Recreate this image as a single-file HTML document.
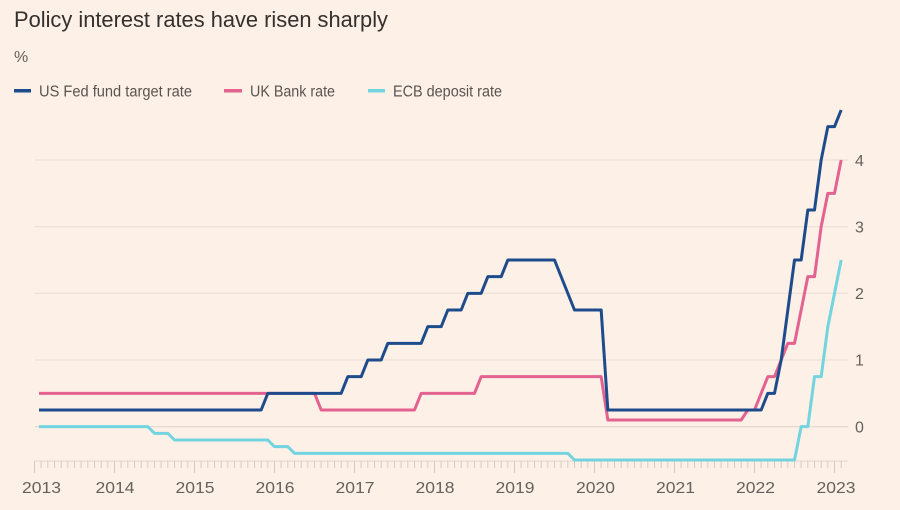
<!DOCTYPE html>
<html>
<head>
<meta charset="utf-8">
<style>
  html,body{margin:0;padding:0;background:#fdf0e7;}
  svg{display:block;}
  text{font-family:"Liberation Sans",Arial,sans-serif;}
</style>
</head>
<body>
<svg width="900" height="510" viewBox="0 0 900 510" xmlns="http://www.w3.org/2000/svg">
  <rect x="0" y="0" width="900" height="510" fill="#fdf0e7"/>

  <!-- Title -->
  <text x="14" y="27" font-size="22" fill="#33302e" textLength="374" lengthAdjust="spacingAndGlyphs">Policy interest rates have risen sharply</text>
  <text x="14" y="62" font-size="16" fill="#66605c">%</text>

  <!-- Legend -->
  <line x1="14" y1="90.7" x2="31" y2="90.7" stroke="#1e4b8b" stroke-width="3.5"/>
  <text x="39" y="96.5" font-size="15.5" fill="#5a5450" textLength="153" lengthAdjust="spacingAndGlyphs">US Fed fund target rate</text>
  <line x1="224" y1="90.7" x2="242" y2="90.7" stroke="#e4628f" stroke-width="3.5"/>
  <text x="250" y="96.5" font-size="15.5" fill="#5a5450" textLength="85" lengthAdjust="spacingAndGlyphs">UK Bank rate</text>
  <line x1="368" y1="90.7" x2="385" y2="90.7" stroke="#72d4df" stroke-width="3.5"/>
  <text x="393" y="96.5" font-size="15.5" fill="#5a5450" textLength="109" lengthAdjust="spacingAndGlyphs">ECB deposit rate</text>

  <!-- Gridlines -->
  <g stroke="#e9ddd3" stroke-width="1">
    <line x1="35" y1="160" x2="848" y2="160"/>
    <line x1="35" y1="226.7" x2="848" y2="226.7"/>
    <line x1="35" y1="293.3" x2="848" y2="293.3"/>
    <line x1="35" y1="360" x2="848" y2="360"/>
  </g>
  <line x1="35" y1="426.7" x2="848" y2="426.7" stroke="#ddd2c9" stroke-width="1"/>

  <!-- Y labels -->
  <g font-size="16" fill="#66605c">
    <text x="855" y="166">4</text>
    <text x="855" y="232.5">3</text>
    <text x="855" y="299">2</text>
    <text x="855" y="365.5">1</text>
    <text x="855" y="432.5">0</text>
  </g>

  <!-- X axis baseline and ticks -->
  <line x1="34" y1="461" x2="848" y2="461" stroke="#e3d7cd" stroke-width="1"/>
  <g id="ticks" stroke="#d6cbc2" stroke-width="1">
    <path d="M34.5 461V473M41.17 461V468M47.83 461V468M54.5 461V468M61.17 461V468M67.83 461V468M74.5 461V468M81.17 461V468M87.83 461V468M94.5 461V468M101.17 461V468M107.83 461V468
M114.5 461V473M121.17 461V468M127.83 461V468M134.5 461V468M141.17 461V468M147.83 461V468M154.5 461V468M161.17 461V468M167.83 461V468M174.5 461V468M181.17 461V468M187.83 461V468
M194.5 461V473M201.17 461V468M207.83 461V468M214.5 461V468M221.17 461V468M227.83 461V468M234.5 461V468M241.17 461V468M247.83 461V468M254.5 461V468M261.17 461V468M267.83 461V468
M274.5 461V473M281.17 461V468M287.83 461V468M294.5 461V468M301.17 461V468M307.83 461V468M314.5 461V468M321.17 461V468M327.83 461V468M334.5 461V468M341.17 461V468M347.83 461V468
M354.5 461V473M361.17 461V468M367.83 461V468M374.5 461V468M381.17 461V468M387.83 461V468M394.5 461V468M401.17 461V468M407.83 461V468M414.5 461V468M421.17 461V468M427.83 461V468
M434.5 461V473M441.17 461V468M447.83 461V468M454.5 461V468M461.17 461V468M467.83 461V468M474.5 461V468M481.17 461V468M487.83 461V468M494.5 461V468M501.17 461V468M507.83 461V468
M514.5 461V473M521.17 461V468M527.83 461V468M534.5 461V468M541.17 461V468M547.83 461V468M554.5 461V468M561.17 461V468M567.83 461V468M574.5 461V468M581.17 461V468M587.83 461V468
M594.5 461V473M601.17 461V468M607.83 461V468M614.5 461V468M621.17 461V468M627.83 461V468M634.5 461V468M641.17 461V468M647.83 461V468M654.5 461V468M661.17 461V468M667.83 461V468
M674.5 461V473M681.17 461V468M687.83 461V468M694.5 461V468M701.17 461V468M707.83 461V468M714.5 461V468M721.17 461V468M727.83 461V468M734.5 461V468M741.17 461V468M747.83 461V468
M754.5 461V473M761.17 461V468M767.83 461V468M774.5 461V468M781.17 461V468M787.83 461V468M794.5 461V468M801.17 461V468M807.83 461V468M814.5 461V468M821.17 461V468M827.83 461V468
M834.5 461V473M841.17 461V468"/>
  </g>

  <!-- X labels -->
  <g font-size="16" fill="#66605c" text-anchor="middle">
    <text x="41.5" y="493" textLength="39" lengthAdjust="spacingAndGlyphs">2013</text>
    <text x="115" y="493" textLength="39" lengthAdjust="spacingAndGlyphs">2014</text>
    <text x="195" y="493" textLength="39" lengthAdjust="spacingAndGlyphs">2015</text>
    <text x="275" y="493" textLength="39" lengthAdjust="spacingAndGlyphs">2016</text>
    <text x="355" y="493" textLength="39" lengthAdjust="spacingAndGlyphs">2017</text>
    <text x="435" y="493" textLength="39" lengthAdjust="spacingAndGlyphs">2018</text>
    <text x="515" y="493" textLength="39" lengthAdjust="spacingAndGlyphs">2019</text>
    <text x="595.5" y="493" textLength="39" lengthAdjust="spacingAndGlyphs">2020</text>
    <text x="675.5" y="493" textLength="39" lengthAdjust="spacingAndGlyphs">2021</text>
    <text x="755.5" y="493" textLength="39" lengthAdjust="spacingAndGlyphs">2022</text>
    <text x="836" y="493" textLength="39" lengthAdjust="spacingAndGlyphs">2023</text>
  </g>

  <!-- ECB deposit rate -->
  <polyline fill="none" stroke="#72d4df" stroke-width="3" stroke-linejoin="round"
    points="39,426.67 147.83,426.67 154.5,433.33 167.83,433.33 174.5,440 267.83,440 274.5,446.67 287.83,446.67 294.5,453.33 567.83,453.33 574.5,460 794.5,460 801.17,426.67 807.83,426.67 814.5,376.67 821.17,376.67 827.83,326.67 834.5,293.33 841.17,260"/>

  <!-- UK Bank rate -->
  <polyline fill="none" stroke="#e4628f" stroke-width="3" stroke-linejoin="round"
    points="39,393.33 314.5,393.33 321.17,410 414.5,410 421.17,393.33 474.5,393.33 481.17,376.67 601.17,376.67 607.83,420 741.17,420 747.83,410 754.5,410 761.17,393.33 767.83,376.67 774.5,376.67 781.17,360 787.83,343.33 794.5,343.33 801.17,310 807.83,276.67 814.5,276.67 821.17,226.67 827.83,193.33 834.5,193.33 841.17,160"/>

  <!-- US Fed fund target rate -->
  <polyline fill="none" stroke="#1e4b8b" stroke-width="3" stroke-linejoin="round"
    points="39,410 261.17,410 267.83,393.33 341.17,393.33 347.83,376.67 361.17,376.67 367.83,360 381.17,360 387.83,343.33 421.17,343.33 427.83,326.67 441.17,326.67 447.83,310 461.17,310 467.83,293.33 481.17,293.33 487.83,276.67 501.17,276.67 507.83,260 554.5,260 574.5,310 601.17,310 607.83,410 761.17,410 767.83,393.33 774.5,393.33 781.17,360 787.83,310 794.5,260 801.17,260 807.83,210 814.5,210 821.17,160 827.83,126.67 834.5,126.67 841.17,110"/>
</svg>
</body>
</html>
